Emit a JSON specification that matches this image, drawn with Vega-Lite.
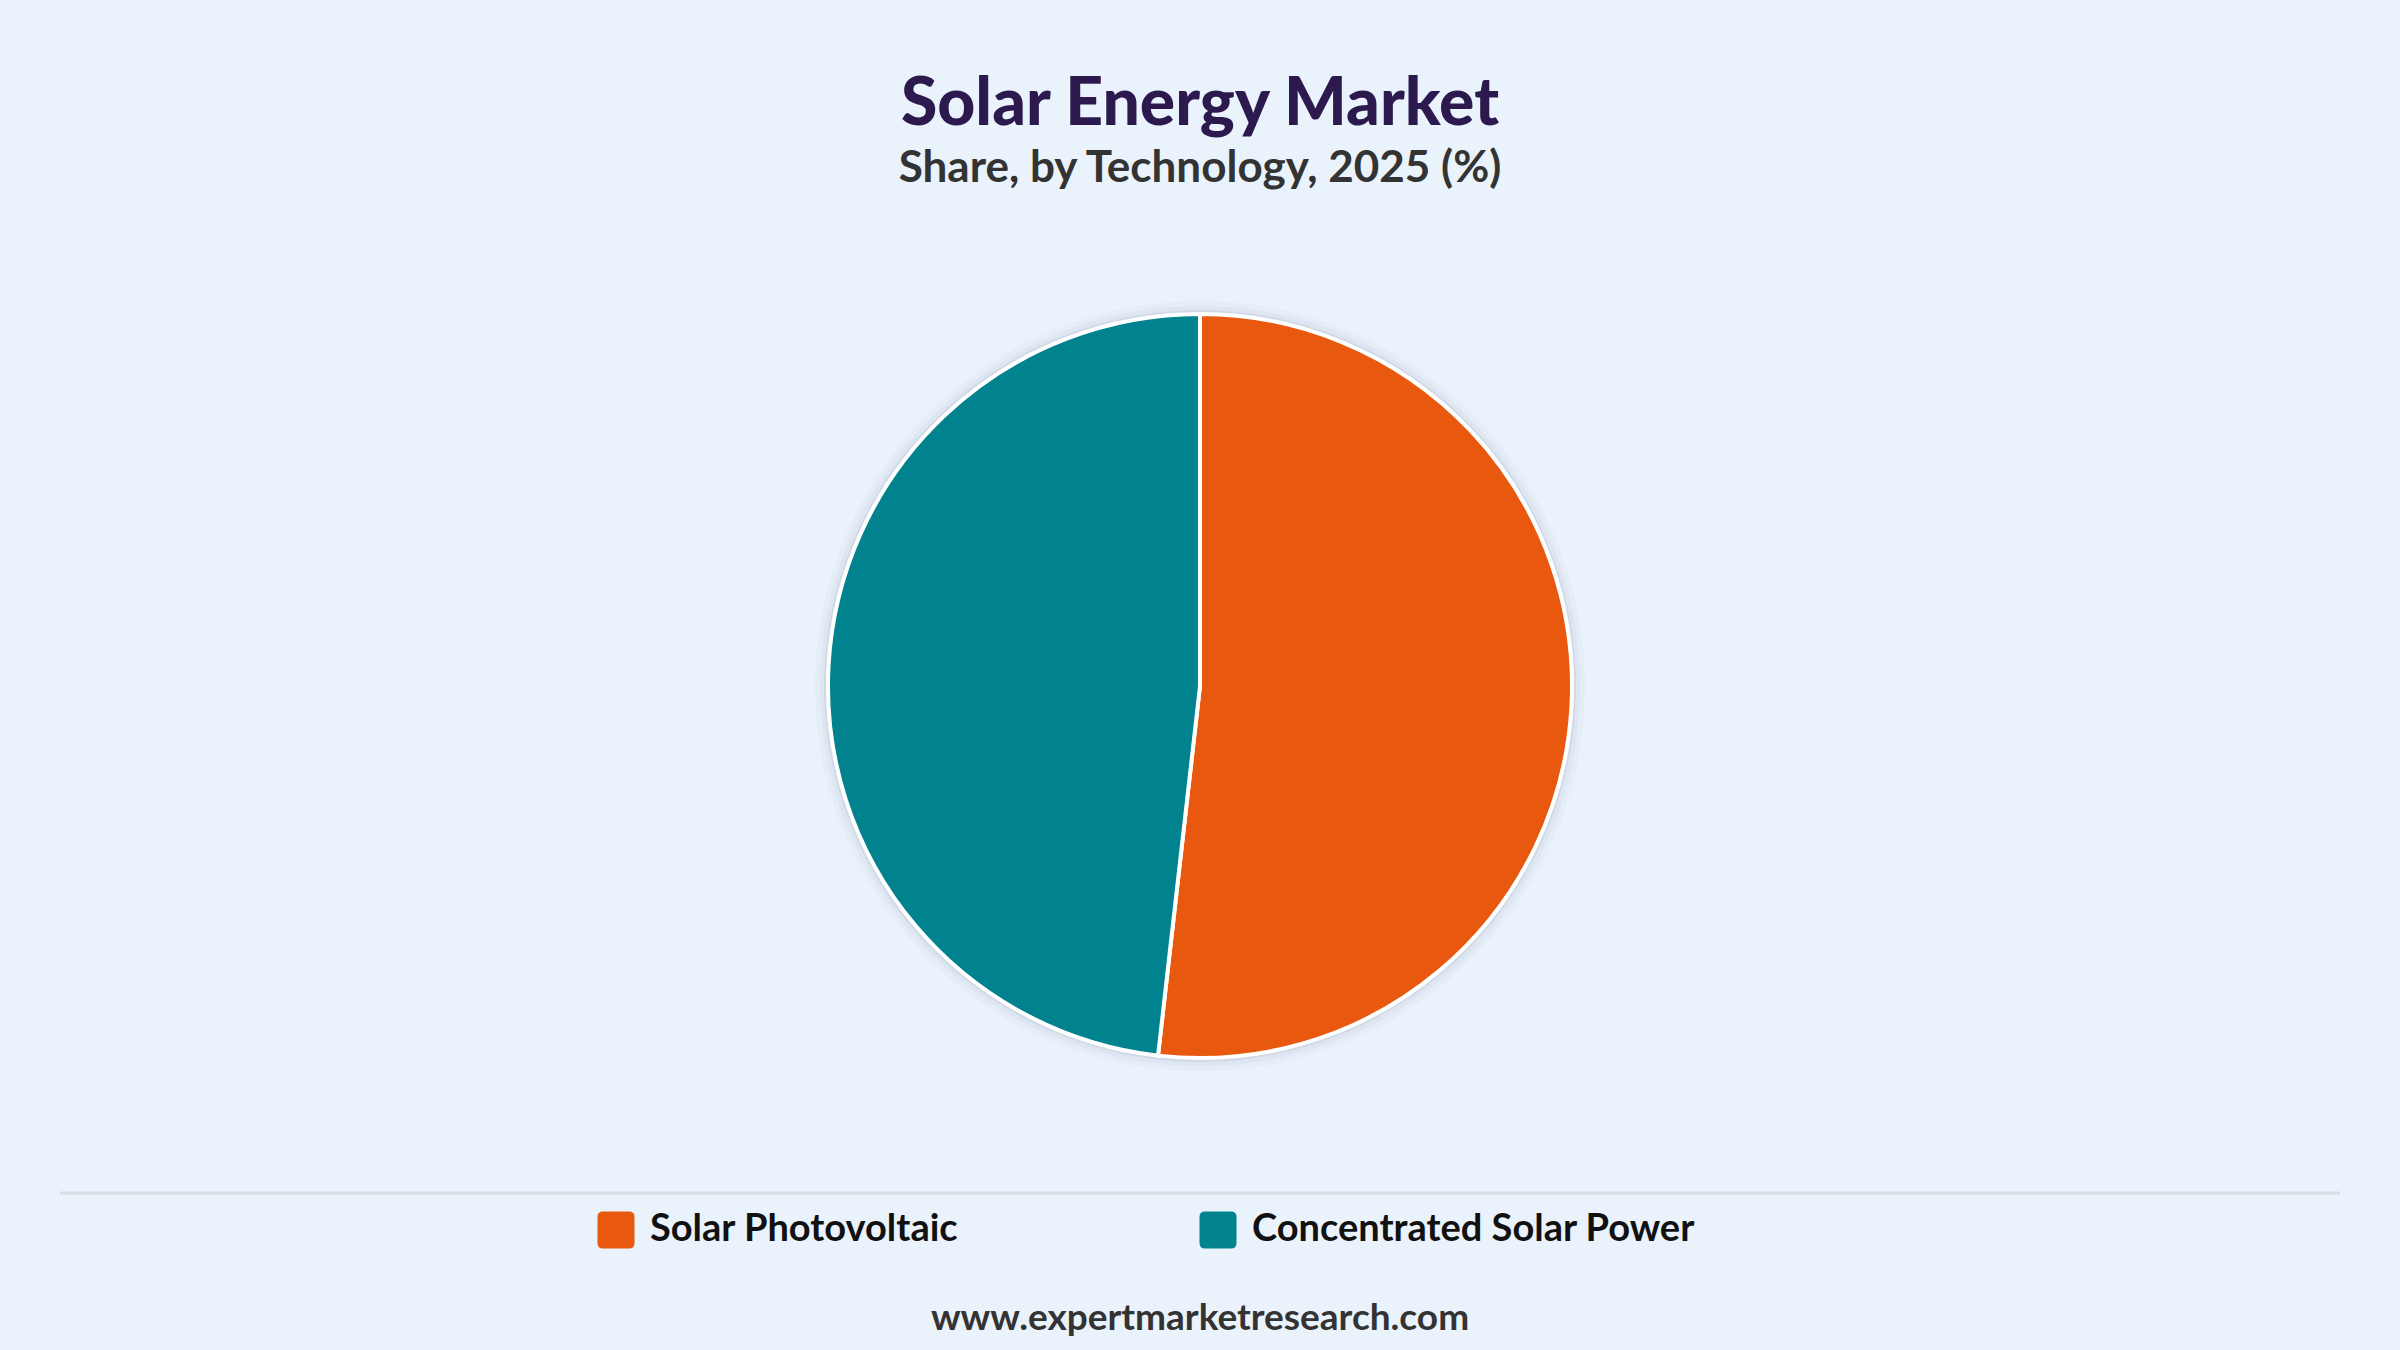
{
  "$schema": "https://vega.github.io/schema/vega-lite/v6.json",
  "width": 2400,
  "height": 1328,
  "autosize": {"type": "none"},
  "padding": {"top": 22, "left": 0, "right": 0, "bottom": 0},
  "background": "#EAF2FB",
  "config": {"view": {"stroke": null}},
  "title": {
    "text": "Solar Energy Market",
    "subtitle": "Share, by Technology, 2025 (%)",
    "anchor": "middle",
    "frame": "group",
    "font": "Lato",
    "fontSize": 66,
    "fontWeight": 900,
    "color": "#2C1A4F",
    "subtitleFont": "Lato",
    "subtitleFontSize": 44,
    "subtitleFontWeight": "bold",
    "subtitleColor": "#333333",
    "subtitlePadding": 8,
    "offset": -170
  },
  "data": {
    "values": [
      {"technology": "Solar Photovoltaic", "share": 51.8},
      {"technology": "Concentrated Solar Power", "share": 48.2}
    ]
  },
  "layer": [
    {
      "mark": {"type": "arc", "outerRadius": 385, "fill": "#7d8ca3", "opacity": 0.04},
      "encoding": {"theta": {"field": "share", "type": "quantitative"}}
    },
    {
      "mark": {"type": "arc", "outerRadius": 380, "fill": "#7d8ca3", "opacity": 0.07},
      "encoding": {"theta": {"field": "share", "type": "quantitative"}}
    },
    {
      "mark": {"type": "arc", "outerRadius": 376, "fill": "#7d8ca3", "opacity": 0.12},
      "encoding": {"theta": {"field": "share", "type": "quantitative"}}
    },
    {
      "mark": {"type": "arc", "outerRadius": 372, "stroke": "#ffffff", "strokeWidth": 4},
      "encoding": {
        "theta": {"field": "share", "type": "quantitative"},
        "order": {"field": "share", "sort": "descending"},
        "color": {
          "field": "technology",
          "type": "nominal",
          "scale": {
            "domain": ["Solar Photovoltaic", "Concentrated Solar Power"],
            "range": ["#E8580F", "#00838F"]
          },
          "legend": {
            "orient": "none",
            "legendX": 597,
            "legendY": 1189,
            "direction": "horizontal",
            "title": null,
            "padding": 0,
            "symbolType": "M-0.7,-1H0.7Q1,-1,1,-0.7V0.7Q1,1,0.7,1H-0.7Q-1,1,-1,0.7V-0.7Q-1,-1,-0.7,-1Z",
            "symbolSize": 1369,
            "symbolStrokeWidth": 0,
            "symbolOpacity": 1,
            "labelFont": "Lato",
            "labelFontSize": 38,
            "labelFontWeight": "bold",
            "labelColor": "#111111",
            "labelOffset": 15,
            "labelLimit": 700,
            "columnPadding": 240
          }
        }
      }
    },
    {
      "data": {"values": [{}]},
      "mark": {"type": "rule", "stroke": "#D9DCE0", "strokeWidth": 3},
      "encoding": {
        "x": {"value": 60},
        "x2": {"value": 2340},
        "y": {"value": 1171}
      }
    },
    {
      "data": {"values": [{"site": "www.expertmarketresearch.com"}]},
      "mark": {"type": "text", "baseline": "alphabetic", "align": "center", "font": "Lato", "fontSize": 37, "fontWeight": "bold", "fill": "#333333"},
      "encoding": {
        "text": {"field": "site"},
        "x": {"value": 1200},
        "y": {"value": 1308}
      }
    }
  ]
}
